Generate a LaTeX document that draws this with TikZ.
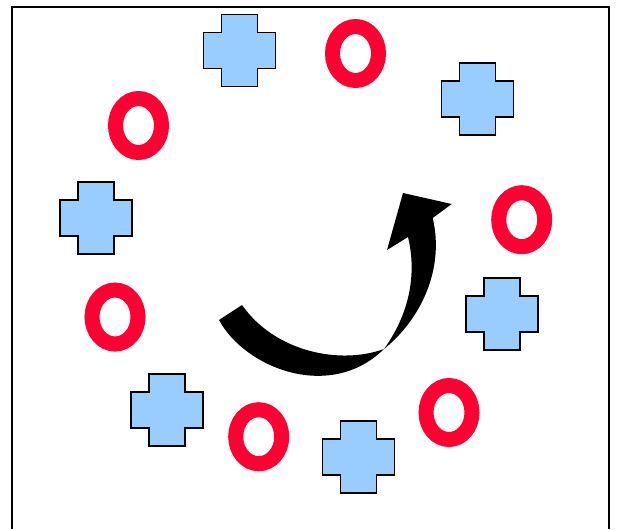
\documentclass[tikz,border=0pt]{standalone}
\usepackage{xcolor}
\usepackage{tikz}
\definecolor{ringred}{RGB}{255,0,51}
\definecolor{crossblue}{RGB}{153,204,255}

\begin{document}
\begin{tikzpicture}[x=0.75pt, y=-0.75pt,
    crossbox/.style={fill=crossblue, draw=black, line width=1.2pt},
    ringline/.style={draw=ringred, line width=11.25pt}]
  \useasboundingbox (0,0) rectangle (620,529);

  % frame (bottom edge runs off the page)
  \draw[line width=1.5pt] (12,529) -- (12,7) -- (609,7) -- (609,529);

  % blue crosses
  \foreach \x/\y in {239.5/50.5, 477.5/98.8, 96/218, 501.7/313.8, 167/409.7, 358.3/457}
    \draw[crossbox, shift={(\x,\y)}] (-18,-36) -- (18,-36) -- (18,-18) -- (36,-18)
      -- (36,18) -- (18,18) -- (18,36) -- (-18,36) -- (-18,18) -- (-36,18)
      -- (-36,-18) -- (-18,-18) -- cycle;

  % red rings
  \foreach \x/\y in {355.5/53.5, 138.5/125.5, 521.7/219.7, 115/317, 449/412.5, 258.7/436.7}
    \draw[ringline] (\x,\y) ellipse [x radius=23, y radius=27];

  % curved arrow
  \coordinate (tailout) at (219,320);
  \coordinate (tailin) at (242,305);
  \coordinate (pinch) at (384,349);
  \fill[black] (tailout) .. controls (245,368) and (330,402) .. (pinch)
    .. controls (420,320) and (445,270) .. (432.7,218)
    -- (451.7,204) -- (403,193) -- (387,250) -- (408,237)
    .. controls (416,270) and (412,310) .. (pinch)
    .. controls (340,365) and (275,352) .. (tailin) -- cycle;
\end{tikzpicture}
\end{document}
